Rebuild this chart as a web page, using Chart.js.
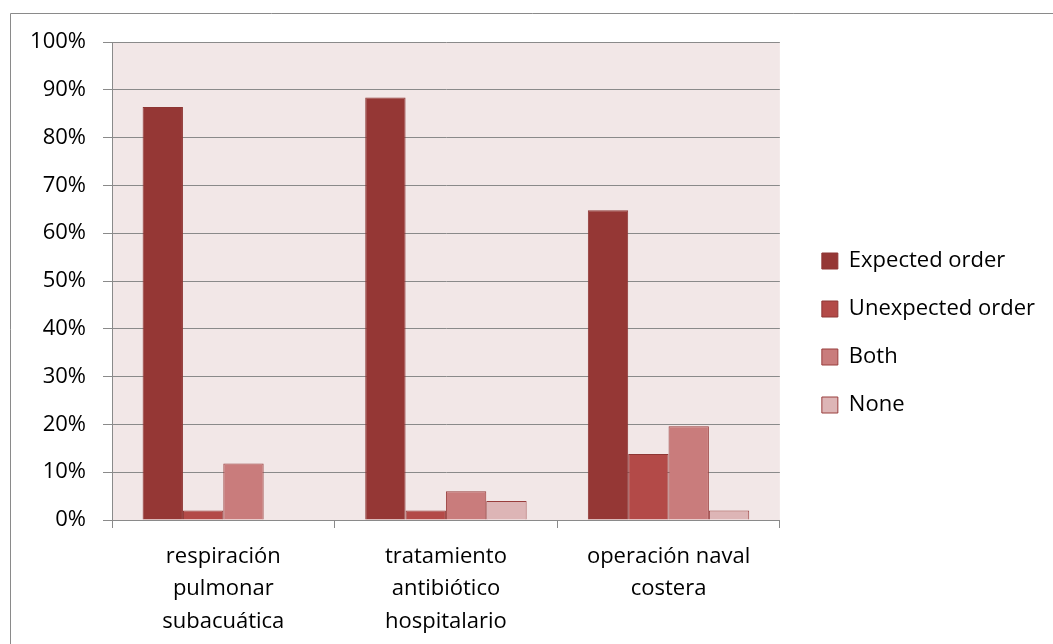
<!DOCTYPE html>
<html>
<head>
<meta charset="utf-8">
<script src="https://cdn.jsdelivr.net/npm/chart.js@4"></script>
<style>
  html, body { margin: 0; padding: 0; background: #fff; }
  #wrap { width: 1053px; height: 644px; }
</style>
</head>
<body>
<div id="wrap"><canvas id="chart" width="1053" height="644"></canvas></div>
<script>
// datos
var categories = [
    ['respiración', 'pulmonar', 'subacuática'],
    ['tratamiento', 'antibiótico', 'hospitalario'],
    ['operación naval', 'costera']
];
var seriesNames = ['Expected order', 'Unexpected order', 'Both', 'None'];
var expectedOrder = [0.864, 0.884, 0.648];
var unexpectedOrder = [0.02, 0.02, 0.138];
var both = [0.118, 0.06, 0.196];
var none = [0, 0.04, 0.02];
var yTicks = [0, 0.1, 0.2, 0.3, 0.4, 0.5, 0.6, 0.7, 0.8, 0.9, 1];

var fills = ['#953735', '#B34A48', '#C97C7C', '#DDB5B6'];
var borders = ['#8E3634', '#8E3634', '#993E3D', '#993E3D'];
var values = [expectedOrder, unexpectedOrder, both, none];

var datasets = values.map(function (v, i) {
    return {
        label: seriesNames[i],
        data: v,
        backgroundColor: fills[i],
        borderColor: borders[i],
        borderWidth: 1,
        barPercentage: 1,
        categoryPercentage: 0.725
    };
});

var fontFamily = '"Open Sans", sans-serif';

// fondo blanco, marco y fondo rosado del área de trazado
var backgroundPlugin = {
    id: 'fondo',
    beforeDraw: function (chart) {
        var ctx = chart.ctx;
        var a = chart.chartArea;
        ctx.save();
        ctx.fillStyle = '#ffffff';
        ctx.fillRect(0, 0, chart.width, chart.height);
        ctx.strokeStyle = '#8a8a8a';
        ctx.lineWidth = 1;
        ctx.beginPath();
        ctx.moveTo(10.5, chart.height + 5);
        ctx.lineTo(10.5, 13.5);
        ctx.lineTo(chart.width + 5, 13.5);
        ctx.stroke();
        ctx.fillStyle = '#F2E7E7';
        ctx.fillRect(a.left, a.top, a.right - a.left, a.bottom - a.top);
        ctx.restore();
    }
};

// mover la leyenda un poco a la derecha y hacia arriba
var legendPlugin = {
    id: 'leyenda',
    afterLayout: function (chart) {
        var lg = chart.legend;
        lg.left += 16;
        lg.right += 16;
        lg.top -= 10;
        lg.bottom -= 10;
    }
};

var ctx = document.getElementById('chart').getContext('2d');
var chart = new Chart(ctx, {
    type: 'bar',
    data: {
        labels: categories,
        datasets: datasets
    },
    options: {
        responsive: false,
        animation: false,
        layout: {
            padding: { top: 42, left: 0, right: 24, bottom: 0 }
        },
        plugins: {
            legend: {
                position: 'right',
                labels: {
                    boxWidth: 16,
                    boxHeight: 16,
                    padding: 26,
                    color: '#000',
                    font: { family: fontFamily, size: 22 }
                }
            },
            tooltip: { enabled: false }
        },
        scales: {
            x: {
                afterFit: function (scale) { scale.height = 124; },
                grid: {
                    offset: true,
                    drawOnChartArea: false,
                    drawTicks: true,
                    tickLength: 8,
                    color: '#8a8a8a'
                },
                border: { color: '#8a8a8a' },
                ticks: {
                    color: '#000',
                    padding: 12,
                    font: { family: fontFamily, size: 22, lineHeight: 1.48 }
                }
            },
            y: {
                min: 0,
                max: 1,
                afterFit: function (scale) { scale.width = 112; },
                afterBuildTicks: function (scale) {
                    scale.ticks = yTicks.map(function (v) { return { value: v }; });
                },
                grid: {
                    color: '#8a8a8a',
                    tickLength: 9
                },
                border: { color: '#8a8a8a' },
                ticks: {
                    color: '#000',
                    padding: 17,
                    font: { family: fontFamily, size: 22 },
                    callback: function (v) { return Math.round(v * 100) + '%'; }
                }
            }
        }
    },
    plugins: [backgroundPlugin, legendPlugin]
});
</script>
</body>
</html>
